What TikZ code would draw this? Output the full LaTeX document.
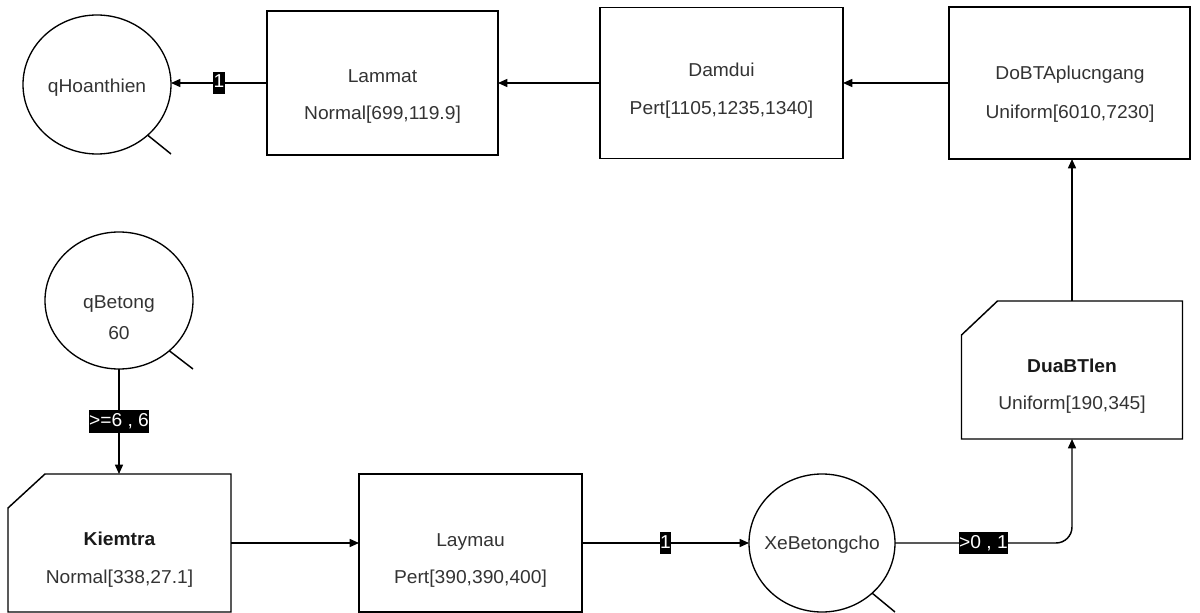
\documentclass[tikz,border=0pt]{standalone}
\usepackage{fontspec}
\setmainfont{Liberation Sans}[FakeStretch=1.03]
\usetikzlibrary{arrows.meta,shapes.geometric}
\definecolor{ink}{HTML}{333333}
\begin{document}
\begin{tikzpicture}[x=0.75pt,y=-0.75pt,
  every node/.style={inner sep=0pt,outer sep=0pt},
  edge/.style={line width=1.1pt,draw=black},
  link/.style={edge,-{Triangle[length=7pt,width=6pt]}},
  activity/.style={draw,line width=1.1pt,rectangle},
  cutbox/.style={rectangle},
  queue/.style={draw,line width=1pt,ellipse},
  txt/.style={font=\fontsize{14}{16}\selectfont,text=ink,text height=10pt,text depth=0pt},
  boldtxt/.style={txt,font=\fontsize{14}{16}\selectfont\bfseries,text=black!90},
  tag/.style={sharp corners,fill=black,text=white,font=\fontsize{14}{16}\selectfont,
    text height=10pt,text depth=2.5pt,inner ysep=2.2pt,inner xsep=0.4pt}
]
\useasboundingbox (0,0) rectangle (1200,613);

% ---- queues ----
\node[queue,minimum width=111pt,minimum height=104.25pt] (qh) at (97,84.5) {};
\node[txt] (qh-name) at (97,86) {qHoanthien};
\draw[edge] (qh.-45) -- (qh.south -| qh.east);

\node[queue,minimum width=111pt,minimum height=102.75pt] (qb) at (119,300.5) {};
\node[txt] (qb-name) at (119,302) {qBetong};
\node[txt] (qb-val) at (119,333) {60};
\draw[edge] (qb.-45) -- (qb.south -| qb.east);

\node[queue,minimum width=109.5pt,minimum height=103.5pt] (xe) at (822,543) {};
\node[txt] (xe-name) at (822,543) {XeBetongcho};
\draw[edge] (xe.-45) -- (xe.south -| xe.east);

% ---- activities, top row ----
\node[activity,minimum width=173.25pt,minimum height=108pt] (lm) at (382.5,83) {};
\node[txt] (lm-name) at (382.5,76) {Lammat};
\node[txt] (lm-dist) at (382.5,113) {Normal[699,119.9]};

\node[activity,minimum width=182.25pt,minimum height=113.25pt] (dd) at (721.5,83) {};
\node[txt] (dd-name) at (721.5,70) {Damdui};
\node[txt] (dd-dist) at (721.5,108) {Pert[1105,1235,1340]};

\node[activity,minimum width=180.75pt,minimum height=114pt] (db) at (1069.5,83) {};
\node[txt] (db-name) at (1070,73) {DoBTAplucngang};
\node[txt] (db-dist) at (1070,112) {Uniform[6010,7230]};

% ---- activities, bottom row ----
\node[cutbox,minimum width=167.25pt,minimum height=103.5pt] (km) at (119.5,543) {};
\draw[edge] ([xshift=27.75pt]km.north west) -- (km.north east) -- (km.south east)
  -- (km.south west) -- ([yshift=-25.5pt]km.north west) -- cycle;
\node[boldtxt] (km-name) at (119.5,539) {Kiemtra};
\node[txt] (km-dist) at (119.5,577) {Normal[338,27.1]};

\node[activity,minimum width=167.25pt,minimum height=103.5pt] (ly) at (470.5,543) {};
\node[txt] (ly-name) at (470.5,540) {Laymau};
\node[txt] (ly-dist) at (470.5,577) {Pert[390,390,400]};

\node[cutbox,minimum width=165.75pt,minimum height=103.5pt] (dua) at (1072,370) {};
\draw[edge] ([xshift=27pt]dua.north west) -- (dua.north east) -- (dua.south east)
  -- (dua.south west) -- ([yshift=-25.5pt]dua.north west) -- cycle;
\node[boldtxt] (dua-name) at (1072,366) {DuaBTlen};
\node[txt] (dua-dist) at (1072,403) {Uniform[190,345]};

% ---- connectors ----
\draw[link] (lm.west) -- node[tag] (t1) {1} (lm.west -| qh.east);
\draw[link] (dd.west) -- (dd.west -| lm.east);
\draw[link] (db.west) -- (db.west -| dd.east);
\draw[link] (dua.north) -- (dua.north |- db.south);
\draw[link,rounded corners=12pt] (xe.east) -- node[tag] (t2) {>0 , 1} (xe.east -| dua.south) -- (dua.south);
\draw[link] (qb.south) -- node[tag] (t3) {>=6 , 6} (qb.south |- km.north);
\draw[link] (km.east) -- (km.east -| ly.west);
\draw[link] (ly.east) -- node[tag] (t4) {1} (ly.east -| xe.west);
\end{tikzpicture}
\end{document}
